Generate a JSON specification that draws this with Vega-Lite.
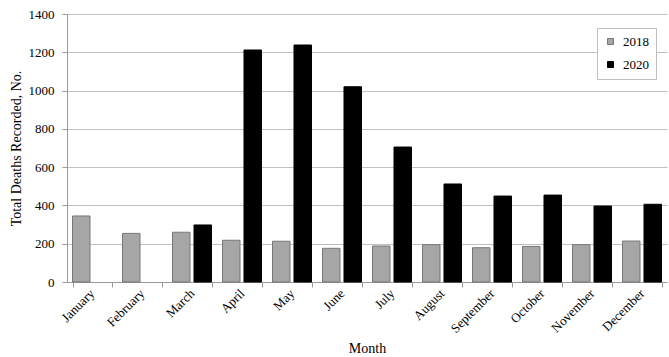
{
  "$schema": "https://vega.github.io/schema/vega-lite/v6.json",
  "width": 600,
  "height": 268,
  "autosize": {"type": "none"},
  "padding": {"left": 67, "top": 14, "right": 2, "bottom": 75},
  "background": "white",
  "config": {
    "font": "Liberation Serif",
    "view": {"stroke": null},
    "axis": {"labelFont": "Liberation Serif", "titleFont": "Liberation Serif", "labelColor": "#000", "titleColor": "#000", "titleFontWeight": "normal", "domainColor": "#999", "tickColor": "#999"},
    "legend": {"labelFont": "Liberation Serif"}
  },
  "data": {
    "values": [
      {"month": "January", "year": "2018", "deaths": 345},
      {"month": "February", "year": "2018", "deaths": 254},
      {"month": "March", "year": "2018", "deaths": 260},
      {"month": "March", "year": "2020", "deaths": 298},
      {"month": "April", "year": "2018", "deaths": 218},
      {"month": "April", "year": "2020", "deaths": 1212},
      {"month": "May", "year": "2018", "deaths": 213},
      {"month": "May", "year": "2020", "deaths": 1238},
      {"month": "June", "year": "2018", "deaths": 176},
      {"month": "June", "year": "2020", "deaths": 1020},
      {"month": "July", "year": "2018", "deaths": 188},
      {"month": "July", "year": "2020", "deaths": 705},
      {"month": "August", "year": "2018", "deaths": 195},
      {"month": "August", "year": "2020", "deaths": 512},
      {"month": "September", "year": "2018", "deaths": 179},
      {"month": "September", "year": "2020", "deaths": 449},
      {"month": "October", "year": "2018", "deaths": 186},
      {"month": "October", "year": "2020", "deaths": 454},
      {"month": "November", "year": "2018", "deaths": 195},
      {"month": "November", "year": "2020", "deaths": 397},
      {"month": "December", "year": "2018", "deaths": 214},
      {"month": "December", "year": "2020", "deaths": 406}
    ]
  },
  "mark": {"type": "bar", "strokeWidth": 1},
  "encoding": {
    "x": {
      "field": "month",
      "type": "nominal",
      "sort": ["January", "February", "March", "April", "May", "June", "July", "August", "September", "October", "November", "December"],
      "scale": {"paddingInner": 0.22, "paddingOuter": 0.11},
      "axis": {
        "title": "Month",
        "titleFontSize": 14,
        "titlePadding": 6,
        "labelAngle": -45,
        "labelFontSize": 13,
        "labelAlign": "right",
        "labelBaseline": "middle",
        "labelPadding": 4,
        "tickBand": "extent",
        "tickSize": 5,
        "domainColor": "#999",
        "grid": false
      }
    },
    "xOffset": {
      "field": "year",
      "type": "nominal",
      "scale": {"paddingInner": 0.186, "paddingOuter": 0}
    },
    "y": {
      "field": "deaths",
      "type": "quantitative",
      "scale": {"domain": [0, 1400]},
      "axis": {
        "title": "Total Deaths Recorded, No.",
        "titleFontSize": 14,
        "titlePadding": 5,
        "values": [0, 200, 400, 600, 800, 1000, 1200, 1400],
        "format": "d",
        "labelFontSize": 13,
        "labelPadding": 8,
        "tickSize": 5,
        "gridColor": "#c0c0c0",
        "domainColor": "#999"
      }
    },
    "color": {
      "field": "year",
      "type": "nominal",
      "scale": {"domain": ["2018", "2020"], "range": ["#a6a6a6", "#000000"]},
      "legend": {
        "title": null,
        "orient": "none",
        "legendX": 530,
        "legendY": 14,
        "symbolType": "square",
        "symbolSize": 36,
        "symbolStrokeColor": "#777",
        "symbolStrokeWidth": 1,
        "labelFontSize": 13,
        "labelOffset": 6,
        "rowPadding": 9,
        "padding": 7,
        "strokeColor": "#bfbfbf",
        "fillColor": "white"
      }
    },
    "stroke": {
      "field": "year",
      "type": "nominal",
      "scale": {"domain": ["2018", "2020"], "range": ["#777777", "#000000"]},
      "legend": null
    }
  }
}
